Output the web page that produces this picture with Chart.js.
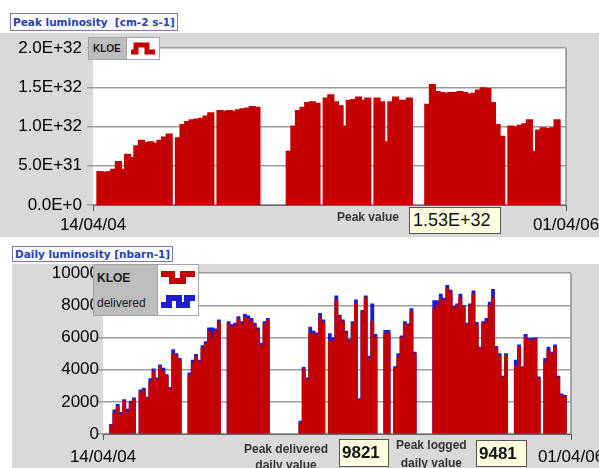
<!DOCTYPE html>
<html>
<head>
<meta charset="utf-8">
<title>KLOE luminosity</title>
<script src="https://cdn.jsdelivr.net/npm/chart.js@4.4.1/dist/chart.umd.min.js"></script>
<style>
  body { margin:0; width:599px; height:468px; position:relative; overflow:hidden; background:#fff; font-family:"Liberation Sans", Arial, sans-serif; }
  .panel { position:absolute; background:#d9d9d9; }
  canvas { position:absolute; left:0; }
  .title { position:absolute; border:1px solid #7a7aa8; background:#fbfbff; color:#2644a6; font:bold 10.5px "DejaVu Sans", sans-serif; padding:0 2px; white-space:nowrap; }
  .legend { position:absolute; display:flex; border:1px solid #a5a5a5; }
  .legend .names { background:#bdbdbd; color:#1a1a1a; font-weight:bold; }
  .legend .keys { background:#fff; border-left:1px solid #a5a5a5; }
  .lab { position:absolute; font-weight:bold; font-size:12px; color:#333; text-align:center; white-space:nowrap; }
  .val { position:absolute; background:#ffffe0; border:1px solid #555; color:#111; box-sizing:border-box; }
</style>
</head>
<body>
<div class="panel" style="left:0;top:33px;width:599px;height:204px"></div>
<div class="panel" style="left:12px;top:264px;width:587px;height:204px"></div>

<canvas id="peak" width="599" height="204" style="top:33px"></canvas>
<canvas id="daily" width="599" height="204" style="top:264px"></canvas>

<div class="title" style="left:10px;top:13px;height:16px;line-height:16px">Peak luminosity&nbsp; [cm-2 s-1]</div>
<div class="title" style="left:12px;top:246px;height:14px;line-height:14px">Daily luminosity [nbarn-1]</div>

<div class="legend" style="left:88px;top:37px;height:21px">
  <div class="names" style="width:37px;font-size:10px;line-height:21px;padding-left:4px;box-sizing:border-box">KLOE</div>
  <div class="keys" style="width:32px">
    <svg width="32" height="21"><path d="M4 14 H9 V7 H20 V14 H28" fill="none" stroke="#c40000" stroke-width="5"/></svg>
  </div>
</div>

<div class="legend" style="left:93px;top:264px;height:50px">
  <div class="names" style="width:63px;font-size:12px;padding-left:3px;box-sizing:border-box">
    <div style="position:absolute;top:6px">KLOE</div>
    <div style="position:absolute;top:31px;font-weight:normal">delivered</div>
  </div>
  <div class="keys" style="width:40px">
    <svg width="40" height="50"><path d="M3 9 H14 V16 H25 V9 H37" fill="none" stroke="#c40000" stroke-width="6"/><path d="M3 40 H11 V33 H21 V40 H29 V33 H37" fill="none" stroke="#1c1cd0" stroke-width="6"/></svg>
  </div>
</div>

<div class="lab" style="left:337px;top:210px">Peak value</div>
<div class="val" id="peakVal" style="left:409px;top:207px;width:92px;height:27px;font-size:18px;line-height:25px;padding-left:3px"></div>

<div class="lab" style="left:244px;top:441px;line-height:16px">Peak delivered<br>daily value</div>
<div class="val" id="delVal" style="left:339px;top:439px;width:50px;height:28px;font-size:17px;font-weight:bold;line-height:26px;padding-left:2px"></div>
<div class="lab" style="left:396px;top:436px;line-height:18px">Peak logged<br>daily value</div>
<div class="val" id="logVal" style="left:476px;top:440px;width:51px;height:27px;font-size:17px;font-weight:bold;line-height:25px;padding-left:2px"></div>

<script>
const startLabel = '14/04/04';
const endLabel = '01/04/06';
const totalDays = 717;

// peak luminosity, one bar per week, in units of 1E+32 cm-2 s-1 (null = no running)
const peakBinDays = 7;
const peakLum = [
  null, .42, .41, .42, .45, .55, .45, .64, .60, .75,
  .82, .79, .80, .78, .82, .86, .90, null, .85, 1.02,
  1.06, 1.08, 1.09, 1.10, 1.13, 1.17, null, 1.20, 1.19, 1.20,
  1.19, 1.21, 1.22, 1.23, 1.25, 1.24, null, null, null, null,
  null, null, .68, 1.00, 1.20, 1.24, 1.30, 1.31, 1.29, null,
  1.36, 1.40, 1.31, 1.26, 1.00, 1.33, 1.34, 1.37, 1.33, 1.36,
  null, 1.36, 1.31, .80, 1.31, 1.37, 1.33, 1.33, 1.36, null,
  null, null, 1.28, 1.53, 1.44, 1.43, 1.42, 1.43, 1.43, 1.44,
  1.43, 1.41, 1.42, 1.46, 1.49, 1.48, 1.30, 1.02, .87, null,
  1.00, .99, 1.01, 1.03, 1.08, .68, .95, .98, .97, .98,
  1.08, null, null
];
const peakTicks = ['0.0E+0', '5.0E+31', '1.0E+32', '1.5E+32', '2.0E+32'];

// daily luminosity, 5 day bins, nbarn-1
const dailyBinDays = 5;
const kloeLum = [
  null, null, 500, 1300, 1700, 1200, 2050, 1400, 1900, 2150,
  null, 2600, 2700, 2200, 3250, 3900, 3400, 4200, 3900, 3600,
  2800, 5000, 4850, 4600, null, null, 3700, 4400, 4800, 4500,
  5300, 5600, 6400, 6000, 6400, 6950, null, null, 6850, 6650,
  6750, 7150, 6850, 7250, 7200, 7000, 6750, 6450, 5500, 6850,
  7050, null, null, null, null, null, null, null, null, null,
  700, 4000, 3400, 6300, 6250, 6150, 7250, 6950, null, 5800,
  5800, 8300, 7300, 7000, 6300, 5800, 6850, 8100, 2100, 7600,
  8500, 4700, 7000, 6000, null, null, 6250, 6300, null, 4100,
  4800, 6000, 6850, 6750, 7600, 5000, null, null, null, null,
  null, 7800, 8000, 8400, 8300, 9050, 8800, 7800, 8000, 8500,
  7900, 6800, 8000, 8700, 6800, 5300, 6900, 7000, 8000, 8500,
  5300, 4900, 3500, 4900, null, null, 4200, 5400, 4100, 6000,
  5850, 5850, 5900, 3450, null, 4500, 5200, 5000, 5400, 3500,
  2400, 2300, null, null
];
const deliveredLum = [
  null, null, 600, 1500, 1850, 1350, 2150, 1550, 2050, 2250,
  null, 2750, 2850, 2300, 3450, 4050, 3500, 4300, 4100, 3700,
  2900, 5250, 5000, 4700, null, null, 3800, 4600, 4950, 4600,
  5500, 5750, 6600, 6600, 6550, 7100, null, null, 7000, 6800,
  6900, 7300, 7000, 7450, 7350, 7200, 6900, 6600, 5650, 7000,
  7200, null, null, null, null, null, null, null, null, null,
  800, 4150, 3500, 6650, 6400, 6300, 7500, 7100, null, 6250,
  6000, 8600, 7400, 7100, 6400, 5900, 7000, 8350, 2200, 7700,
  8600, 4850, 8100, 6200, null, null, 6450, 6450, null, 4200,
  5000, 6100, 7000, 6850, 7800, 5100, null, null, null, null,
  null, 8300, 8300, 8700, 8450, 9250, 8950, 7950, 8100, 8700,
  8000, 6900, 8100, 8900, 6950, 5400, 7000, 7200, 8200, 9000,
  5450, 5000, 3600, 5000, null, null, 4600, 5550, 4200, 6200,
  5950, 5950, 6000, 3550, null, 4700, 5400, 5100, 5550, 3600,
  2500, 2400, null, null
];
const dailyTicks = ['0', '2000', '4000', '6000', '8000', '10000'];

const peakValue = '1.53E+32';
const peakDelivered = '9821';
const peakLogged = '9481';

document.getElementById('peakVal').textContent = peakValue;
document.getElementById('delVal').textContent = peakDelivered;
document.getElementById('logVal').textContent = peakLogged;

// bin index -> day at bin centre
function toPoints(values, binDays) {
  return values.map((v, i) => ({ x: i * binDays + binDays / 2, y: v }));
}

// white plot area + right frame line
const plotFrame = {
  id: 'plotFrame',
  beforeDraw(chart) {
    const { ctx, chartArea: a } = chart;
    ctx.save();
    ctx.fillStyle = '#fff';
    ctx.fillRect(a.left, a.top, a.right - a.left, a.bottom - a.top);
    ctx.restore();
  },
  beforeDatasetsDraw(chart) {
    const { ctx, chartArea: a } = chart;
    ctx.save();
    ctx.strokeStyle = '#8c8c8c';
    ctx.lineWidth = 1.5;
    ctx.beginPath();
    ctx.moveTo(a.right, a.top);
    ctx.lineTo(a.right, a.bottom);
    ctx.stroke();
    ctx.restore();
  }
};

function makeChart(id, datasets, yMax, yStep, tickLabels, lay) {
  return new Chart(document.getElementById(id), {
    type: 'bar',
    data: { datasets },
    plugins: [plotFrame],
    options: {
      responsive: false,
      animation: false,
      layout: { padding: { top: 9, right: lay.right, left: 0, bottom: 0 } },
      plugins: { legend: { display: false }, tooltip: { enabled: false } },
      datasets: { bar: { grouped: false, barPercentage: lay.barPct, categoryPercentage: 1, borderWidth: 0, inflateAmount: lay.inflate } },
      scales: {
        x: {
          type: 'linear', min: 0, max: totalDays, offset: false,
          grid: { display: true, drawOnChartArea: false, tickLength: 6, color: '#555', offset: false },
          border: { display: true, color: '#666', width: 1 },
          ticks: {
            autoSkip: false, maxRotation: 0, padding: lay.xPad, color: '#000',
            font: { family: 'Liberation Sans', size: 17 },
            callback: v => (v === 0 ? startLabel : endLabel)
          },
          afterBuildTicks: axis => { axis.ticks = [{ value: 0 }, { value: totalDays }]; },
          afterFit: axis => { axis.height = lay.xH; axis.paddingLeft = 0; axis.paddingRight = 0; }
        },
        y: {
          min: 0, max: yMax,
          grid: { color: '#9c9c9c', lineWidth: 1.5, tickLength: lay.tick },
          border: { display: false },
          ticks: {
            stepSize: yStep, autoSkip: false, padding: lay.yPad, color: '#000',
            font: { family: 'Liberation Sans', size: 17 },
            callback: (v, i) => tickLabels[i]
          },
          afterFit: axis => { axis.width = lay.left; }
        }
      }
    }
  });
}

makeChart('peak', [
  { label: 'KLOE', data: toPoints(peakLum, peakBinDays), backgroundColor: '#c40000' }
], 2, 0.5, peakTicks, { right: 33, left: 93, xH: 32, xPad: 4, tick: 6, yPad: 5, inflate: 1, barPct: 1.12 });

makeChart('daily', [
  { label: 'KLOE', data: toPoints(kloeLum, dailyBinDays), backgroundColor: '#c40000' },
  { label: 'delivered', data: toPoints(deliveredLum, dailyBinDays), backgroundColor: '#1c1cd0' }
], 10000, 2000, dailyTicks, { right: 28, left: 103, xH: 34, xPad: 7, tick: 5, yPad: -1, inflate: 0.3, barPct: 1 });
</script>
</body>
</html>
